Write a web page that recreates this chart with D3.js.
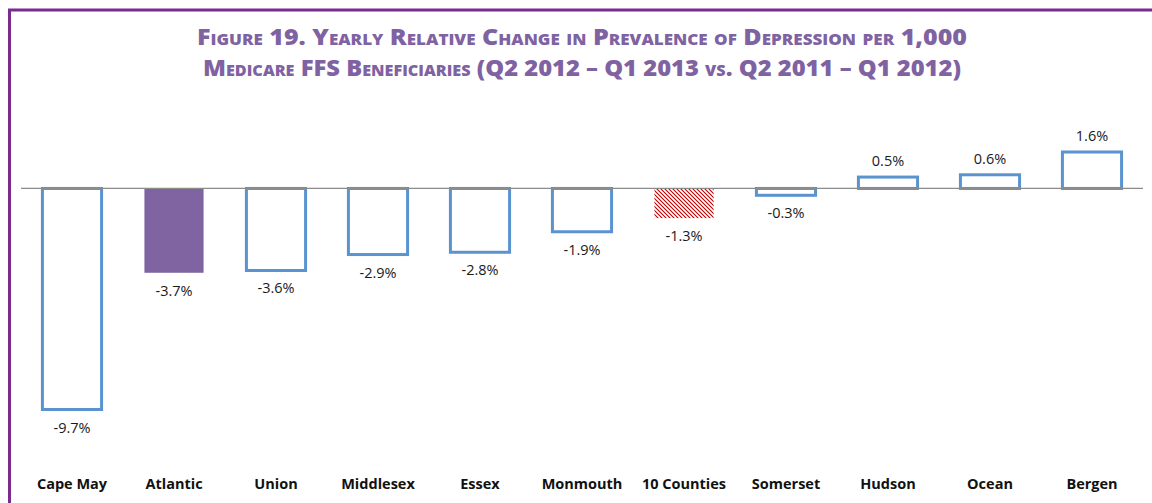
<!DOCTYPE html>
<html>
<head>
<meta charset="utf-8">
<script src="https://cdn.jsdelivr.net/npm/d3@7"></script>
<style>
  html, body { margin: 0; padding: 0; background: #fff; }
  svg { display: block; }
</style>
</head>
<body>
<svg id="chart" width="1152" height="503"></svg>
<script>
// Counties in display order and their yearly relative change (%)
const categories = ["Cape May", "Atlantic", "Union", "Middlesex", "Essex", "Monmouth",
                    "10 Counties", "Somerset", "Hudson", "Ocean", "Bergen"];
const values = [-9.7, -3.7, -3.6, -2.9, -2.8, -1.9, -1.3, -0.3, 0.5, 0.6, 1.6];
const valueLabels = ["-9.7%", "-3.7%", "-3.6%", "-2.9%", "-2.8%", "-1.9%",
                     "-1.3%", "-0.3%", "0.5%", "0.6%", "1.6%"];
const titleLines = [
  "Figure 19. Yearly Relative Change in Prevalence of Depression per 1,000",
  "Medicare FFS Beneficiaries (Q2 2012 \u2013 Q1 2013 vs. Q2 2011 \u2013 Q1 2012)"
];
// Bar styling by category
const highlight = "Atlantic";
const aggregate = "10 Counties";

const svg = d3.select("#chart");
const W = 1152, H = 503;

// Frame: purple top and left rules
svg.append("line").attr("x1", 8).attr("x2", W).attr("y1", 10).attr("y2", 10)
  .attr("stroke", "#7b2a8e").attr("stroke-width", 3);
svg.append("line").attr("x1", 9.5).attr("x2", 9.5).attr("y1", 9).attr("y2", H)
  .attr("stroke", "#7b2a8e").attr("stroke-width", 3);

// Title
const title = svg.append("g");
titleLines.forEach((t, i) => {
  title.append("text")
    .attr("x", 582).attr("y", 45 + i * 31)
    .attr("text-anchor", "middle")
    .attr("font-family", "'Open Sans', 'DejaVu Sans', sans-serif")
    .attr("font-weight", 800)
    .attr("font-size", 23.5)
    .style("font-variant", "small-caps")
    .attr("fill", "#7f62a2")
    .attr("textLength", i === 0 ? 770 : 758)
    .attr("lengthAdjust", "spacingAndGlyphs")
    .text(t);
});

// Hatch pattern for the aggregate bar
const defs = svg.append("defs");
const pat = defs.append("pattern")
  .attr("id", "hatch").attr("patternUnits", "userSpaceOnUse")
  .attr("width", 4).attr("height", 4);
pat.append("rect").attr("width", 4).attr("height", 4).attr("fill", "#fff");
pat.append("path").attr("d", "M-1,-1 L5,5 M-1,3 L1,5 M3,-1 L5,1")
  .attr("stroke", "#c00000").attr("stroke-width", 1.1);

// Scales
const x = d3.scaleBand().domain(categories).range([21, 1143]).paddingInner(0.42).paddingOuter(0.21);
const y = d3.scaleLinear().domain([-9.7, 1.6]).range([409.5, 152]);

const data = categories.map((c, i) => ({ c, v: values[i], label: valueLabels[i] }));

// Bars
svg.append("g").selectAll("rect").data(data).join("rect")
  .attr("x", d => x(d.c))
  .attr("width", x.bandwidth())
  .attr("y", d => Math.min(y(d.v), y(0)))
  .attr("height", d => Math.abs(y(d.v) - y(0)))
  .attr("fill", d => d.c === highlight ? "#8064a2" : d.c === aggregate ? "url(#hatch)" : "#fff")
  .attr("stroke", d => (d.c === highlight || d.c === aggregate) ? "none" : "#5b93d0")
  .attr("stroke-width", 3);

// Zero axis line
svg.append("line")
  .attr("x1", 21).attr("x2", 1143)
  .attr("y1", y(0)).attr("y2", y(0))
  .attr("stroke", "#8c8c8c").attr("stroke-width", 1.3);

// Value labels
svg.append("g").selectAll("text").data(data).join("text")
  .attr("x", d => x(d.c) + x.bandwidth() / 2)
  .attr("y", d => d.v < 0 ? y(d.v) + 23 : y(d.v) - 11)
  .attr("text-anchor", "middle")
  .attr("font-family", "'Open Sans', 'Liberation Sans', sans-serif")
  .attr("font-size", 14.5)
  .attr("fill", "#1a1a1a")
  .text(d => d.label);

// Category axis labels
const xAxis = svg.append("g")
  .attr("transform", "translate(0,479)")
  .call(d3.axisBottom(x).tickSize(0).tickPadding(0));
xAxis.select(".domain").remove();
xAxis.selectAll("text")
  .attr("font-family", "'Open Sans', 'Liberation Sans', sans-serif")
  .attr("font-weight", 700)
  .attr("font-size", 14.5)
  .attr("fill", "#111");
</script>
</body>
</html>
